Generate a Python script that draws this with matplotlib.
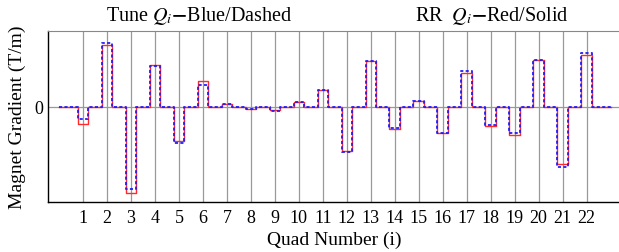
import numpy as np
import matplotlib
matplotlib.use("Agg")
import matplotlib.pyplot as plt

plt.rcParams['font.family'] = ['Liberation Serif', 'DejaVu Serif']
plt.rcParams['mathtext.fontset'] = 'stix'

# quad gradients (arbitrary units)
quads = list(range(1, 23))
tune_q = [-12, 63.5, -82, 41, -36.3, 22, 2.7, -2.5, -4, 4.7, 17, -45.3,
          45.3, -21.3, 5.3, -26.3, 35.3, -18, -26.3, 46.3, -60.7, 53.3]
rr_q = [-17, 62, -86, 41.3, -34.7, 25.3, 2.7, -2, -3, 4.7, 17, -44.7,
        45.3, -22.3, 5.7, -26.3, 33.7, -19.7, -28.3, 46.3, -57.3, 52]
half_width = 0.22


def step_profile(vals):
    xs, ys = [0.0], [0.0]
    for q, v in zip(quads, vals):
        xs += [q - half_width, q - half_width, q + half_width, q + half_width]
        ys += [0.0, v, v, 0.0]
    xs.append(quads[-1] + 1)
    ys.append(0.0)
    return np.array(xs), np.array(ys)


fig = plt.figure(figsize=(6.19, 2.53), dpi=100)
ax = fig.add_axes([47.7 / 619, 1 - 203.3 / 253, 1 - 47.7 / 619 + 0.002, (203.3 - 31.7) / 253])

for q in quads:
    ax.axvline(q, color='#999999', lw=0.9, zorder=1)
ax.axhline(0, color='#999999', lw=0.9, zorder=1)

x_rr, y_rr = step_profile(rr_q)
x_tn, y_tn = step_profile(tune_q)
ax.plot(x_rr, y_rr, color='#ff2a2a', lw=1.0, zorder=3)
ax.plot(x_tn, y_tn, color='#1a1aff', lw=1.4, ls=(0, (1.6, 1.2)), zorder=4, alpha=0.9)

ax.set_xlim(-0.47, 23.4)
ax.set_ylim(-95.6, 76)
ax.set_xticks(quads)
ax.set_xticklabels([str(q) for q in quads], fontsize=13)
ax.set_yticks([0])
ax.set_yticklabels(['0'], fontsize=13)
ax.tick_params(axis='x', length=0, pad=5)
ax.tick_params(axis='y', length=0, pad=3)
ax.spines['right'].set_visible(False)
ax.spines['top'].set_color('#888888')
ax.spines['left'].set_linewidth(1.0)
ax.spines['bottom'].set_linewidth(1.0)

ax.set_xlabel('Quad Number (i)', fontsize=14, labelpad=3)
ax.set_ylabel('Magnet Gradient (T/m)', fontsize=14, labelpad=6)

fig.text(199 / 619, 1 - 16 / 253, r'Tune $Q_i$$\mathbf{-}$Blue/Dashed', ha='center', va='center', fontsize=14.5)
fig.text(492 / 619, 1 - 16 / 253, r'RR  $Q_i$$\mathbf{-}$Red/Solid', ha='center', va='center', fontsize=14.5)

fig.savefig('out.png', dpi=100)
